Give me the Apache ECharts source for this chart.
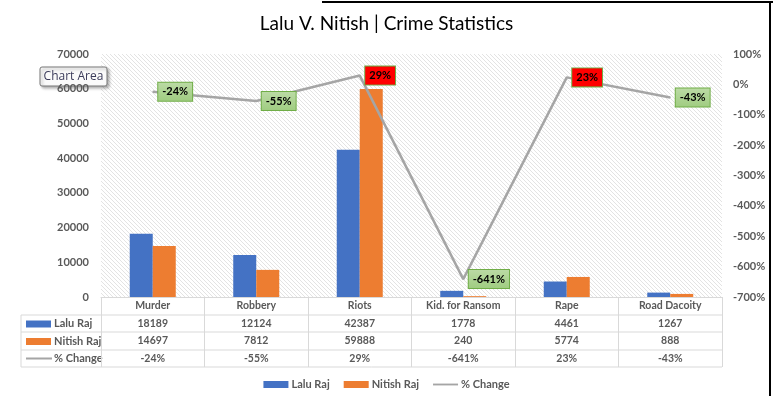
<!DOCTYPE html>
<html>
<head>
<meta charset="utf-8">
<script src="https://cdn.jsdelivr.net/npm/echarts@6/dist/echarts.min.js"></script>
<style>
  html, body { margin: 0; padding: 0; background: #fff; }
  #chart { width: 773px; height: 405px; }
</style>
</head>
<body>
<div id="chart"></div>
<script>
var categories = ['Murder', 'Robbery', 'Riots', 'Kid. for Ransom', 'Rape', 'Road Dacoity'];
var laluRaj = [18189, 12124, 42387, 1778, 4461, 1267];
var nitishRaj = [14697, 7812, 59888, 240, 5774, 888];
var pctChange = [-24, -55, 29, -641, 23, -43];

var FONT = 'Lato, "Open Sans", sans-serif';
var GREY = '#595959';

// hatch pattern for the plot area
function hatch() {
  var c = document.createElement('canvas');
  c.width = 4; c.height = 4;
  var g = c.getContext('2d');
  g.strokeStyle = '#dcdcdc';
  g.lineWidth = 0.8;
  g.beginPath();
  g.moveTo(-1, -1); g.lineTo(5, 5);
  g.moveTo(-1, 3); g.lineTo(1, 5);
  g.moveTo(3, -1); g.lineTo(5, 1);
  g.stroke();
  return c;
}

var chart = echarts.init(document.getElementById('chart'));

var L = 101, R = 722, T = 54, B = 297;
var rows = [315, 332, 350, 367];
var rowMid = [323.5, 341, 358.5];

var tableLines = rows.map(function (y) {
  return { type: 'line', shape: { x1: 21, y1: y, x2: R, y2: y }, style: { stroke: '#d9d9d9', lineWidth: 1 } };
});
tableLines.push({ type: 'line', shape: { x1: 21, y1: 315, x2: 21, y2: 367 }, style: { stroke: '#d9d9d9', lineWidth: 1 } });

var rowHeads = [
  { type: 'rect', shape: { x: 26, y: rowMid[0] - 3, width: 25, height: 7 }, style: { fill: '#4472C4' } },
  { type: 'text', x: 54, y: rowMid[0], style: { text: 'Lalu Raj', fill: GREY, font: 'bold 11px ' + FONT, verticalAlign: 'middle' } },
  { type: 'rect', shape: { x: 26, y: rowMid[1] - 3, width: 25, height: 7 }, style: { fill: '#ED7D31' } },
  { type: 'text', x: 54, y: rowMid[1], style: { text: 'Nitish Raj', fill: GREY, font: 'bold 11px ' + FONT, verticalAlign: 'middle' } },
  { type: 'line', shape: { x1: 26, y1: rowMid[2], x2: 52, y2: rowMid[2] }, style: { stroke: '#A5A5A5', lineWidth: 2 } },
  { type: 'text', x: 54, y: rowMid[2], style: { text: '% Change', fill: GREY, font: 'bold 11px ' + FONT, verticalAlign: 'middle' } }
];

var tip = {
  type: 'group', x: 40, y: 67,
  children: [
    { type: 'rect', shape: { x: 0, y: 0, width: 67, height: 19, r: 2 },
      style: { fill: '#fafafa', stroke: '#767676', lineWidth: 1, shadowBlur: 3, shadowOffsetX: 2, shadowOffsetY: 2, shadowColor: 'rgba(0,0,0,0.3)' } },
    { type: 'text', x: 33.5, y: 10, style: { text: 'Chart Area', fill: '#3b3b5a', font: '12px "Open Sans", sans-serif', align: 'center', verticalAlign: 'middle' } }
  ]
};

var frame = [
  { type: 'line', shape: { x1: 770, y1: 2, x2: 770, y2: 396 }, style: { stroke: '#000', lineWidth: 2 } },
  { type: 'line', shape: { x1: 322, y1: 2, x2: 773, y2: 2 }, style: { stroke: '#000', lineWidth: 2 } }
];

var option = {
  animation: false,
  title: {
    text: 'Lalu V. Nitish | Crime Statistics',
    left: 'center', top: 9,
    textStyle: { fontFamily: FONT, fontSize: 19, fontWeight: 'normal', color: '#000' }
  },
  grid: {
    left: L, right: 773 - R, top: T, bottom: 405 - B,
    show: true, borderWidth: 0,
    backgroundColor: { image: hatch(), repeat: 'repeat' }
  },
  legend: {
    bottom: 10, left: 'center',
    itemWidth: 25, itemHeight: 7, itemGap: 14,
    textStyle: { fontFamily: FONT, fontSize: 11, fontWeight: 'bold', color: GREY, padding: [0, 0, 0, -2] },
    data: [
      { name: 'Lalu Raj', icon: 'rect' },
      { name: 'Nitish Raj', icon: 'rect' },
      { name: '% Change', icon: 'path://M0,0H27V2H0Z' }
    ]
  },
  xAxis: {
    type: 'category',
    data: categories,
    axisLine: { show: true, lineStyle: { color: '#d9d9d9' } },
    axisTick: { show: true, length: 70, interval: 0, lineStyle: { color: '#d9d9d9' } },
    axisLabel: {
      interval: 0, margin: 0,
      formatter: function (v, i) {
        return '{c|' + v + '}\n{v|' + laluRaj[i] + '}\n{v|' + nitishRaj[i] + '}\n{v|' + pctChange[i] + '%}';
      },
      rich: {
        c: { fontFamily: FONT, fontSize: 10.5, fontWeight: 'bold', color: GREY, lineHeight: 17.5 },
        v: { fontFamily: FONT, fontSize: 10.5, fontWeight: 'bold', color: GREY, lineHeight: 17.5 }
      }
    }
  },
  yAxis: [
    {
      type: 'value', min: 0, max: 70000, interval: 10000,
      splitLine: { show: false }, axisLine: { show: false }, axisTick: { show: false },
      axisLabel: { margin: 12, fontFamily: FONT, fontSize: 11, fontWeight: 'bold', color: GREY,
        formatter: function (v) { return String(v); } }
    },
    {
      type: 'value', min: -700, max: 100, interval: 100,
      splitLine: { show: false }, axisLine: { show: false }, axisTick: { show: false },
      axisLabel: { margin: 11, fontFamily: FONT, fontSize: 11, fontWeight: 'bold', color: GREY, formatter: '{value}%' }
    }
  ],
  series: [
    { name: 'Lalu Raj', type: 'bar', data: laluRaj, barWidth: 23, barGap: '0%', itemStyle: { color: '#4472C4' } },
    { name: 'Nitish Raj', type: 'bar', data: nitishRaj, barWidth: 23, itemStyle: { color: '#ED7D31' } },
    {
      name: '% Change', type: 'line', yAxisIndex: 1, z: 5,
      data: pctChange.map(function (v) {
        var pos = v > 0;
        return {
          value: v,
          label: {
            backgroundColor: pos ? '#FF0000' : {
              type: 'linear', x: 0, y: 0, x2: 0, y2: 1,
              colorStops: [{ offset: 0, color: '#bcdba6' }, { offset: 1, color: '#9fcc80' }]
            }
          }
        };
      }),
      symbol: 'circle', symbolSize: 1,
      itemStyle: { color: '#A5A5A5' },
      lineStyle: { color: '#A5A5A5', width: 2.5 },
      label: {
        show: true, position: 'right', distance: 5,
        formatter: '{c}%',
        fontFamily: FONT, fontSize: 11, fontWeight: 'bold', color: '#000',
        borderColor: '#70AD47', borderWidth: 1, padding: [4, 4, 3, 4]
      }
    }
  ],
  graphic: tableLines.concat(rowHeads, [tip], frame)
};

option && chart.setOption(option);
</script>
</body>
</html>
